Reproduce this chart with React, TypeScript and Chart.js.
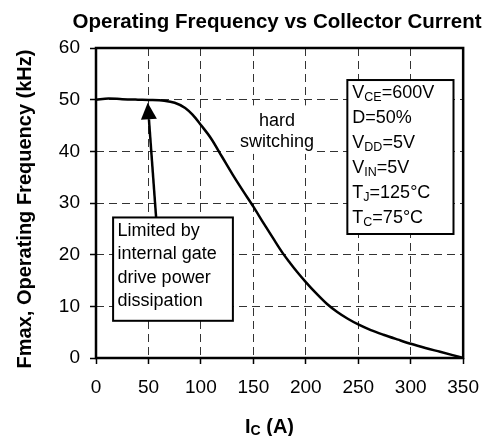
import React, { useEffect, useRef } from "react";
import { Chart, registerables } from "chart.js";

Chart.register(...registerables);

// ---- data ----
const currentA = [0, 12, 25, 40, 50, 65, 75, 85, 92, 100, 110, 120, 130, 140, 150, 160, 170, 178, 185, 192, 200, 210, 220, 230, 240, 250, 262, 274, 288, 301, 314, 328, 340, 350];
const freqKHz = [50, 50.25, 50.1, 50, 49.95, 49.8, 49.4, 48.4, 47.1, 45.1, 42.4, 39.0, 35.6, 32.4, 29.3, 26.0, 22.8, 20.3, 18.4, 16.6, 14.7, 12.5, 10.5, 8.9, 7.6, 6.5, 5.4, 4.5, 3.55, 2.7, 1.95, 1.2, 0.55, 0];

const xTicks = [0, 50, 100, 150, 200, 250, 300, 350];
const yTicks = [0, 10, 20, 30, 40, 50, 60];

const chartTitle = "Operating Frequency vs Collector Current";
const yTitle = "Fmax, Operating Frequency (kHz)";
const xTitleMain = "I";
const xTitleSub = "C";
const xTitleRest = " (A)";

const hardSwitchingLines = ["hard", "switching"];
const limitedLines = ["Limited by", "internal gate", "drive power", "dissipation"];
const conditionLines = [
  { main: "V", sub: "CE", rest: "=600V" },
  { main: "D=50%", sub: "", rest: "" },
  { main: "V", sub: "DD", rest: "=5V" },
  { main: "V", sub: "IN", rest: "=5V" },
  { main: "T", sub: "J", rest: "=125°C" },
  { main: "T", sub: "C", rest: "=75°C" },
];

const FONT = "'Liberation Sans', Arial, Helvetica, sans-serif";

const annotPlugin = {
  id: "annot",
  afterDatasetsDraw(chart: any) {
    const { ctx, chartArea: ca } = chart;
    const xs = chart.scales.x;
    const ys = chart.scales.y;
    const px = (v: number) => xs.getPixelForValue(v);
    const py = (v: number) => ys.getPixelForValue(v);
    ctx.save();

    // "hard switching" with white background
    ctx.fillStyle = "#fff";
    ctx.fillRect(px(133.4), py(48.9), px(206) - px(133.4), py(39.5) - py(48.9));
    ctx.fillStyle = "#000";
    ctx.font = `18px ${FONT}`;
    ctx.textAlign = "center";
    ctx.textBaseline = "alphabetic";
    ctx.fillText(hardSwitchingLines[0], px(172.6), py(50) + 26.5);
    ctx.fillText(hardSwitchingLines[1], px(172.6), py(50) + 47.5);

    // arrow
    const tipX = px(49.3), tipY = py(49.4);
    const tailX = px(57.3), tailY = py(27.2);
    const dx = tipX - tailX, dy = tipY - tailY;
    const len = Math.hypot(dx, dy);
    const ux = dx / len, uy = dy / len;
    const headLen = 16.5, headHalf = 8;
    const bx = tipX - ux * headLen, by = tipY - uy * headLen;
    ctx.strokeStyle = "#000";
    ctx.lineWidth = 2.5;
    ctx.beginPath();
    ctx.moveTo(tailX, tailY);
    ctx.lineTo(bx, by);
    ctx.stroke();
    ctx.beginPath();
    ctx.moveTo(tipX, tipY);
    ctx.lineTo(bx - uy * headHalf, by + ux * headHalf);
    ctx.lineTo(bx + uy * headHalf, by - ux * headHalf);
    ctx.closePath();
    ctx.fill();

    // left box
    {
      const l = px(16.3), r = px(130.5), t = py(27.2), b = py(7.2);
      ctx.fillStyle = "#fff";
      ctx.fillRect(l, t, r - l, b - t);
      ctx.lineWidth = 2;
      ctx.strokeRect(l, t, r - l, b - t);
      ctx.fillStyle = "#000";
      ctx.font = `18px ${FONT}`;
      ctx.textAlign = "left";
      limitedLines.forEach((s, i) => ctx.fillText(s, l + 4.5, t + 18.5 + i * 23.3));
    }

    // right box
    {
      const l = px(239.6), r = px(340.8), t = py(53.8), b = py(24.0);
      ctx.fillStyle = "#fff";
      ctx.fillRect(l, t, r - l, b - t);
      ctx.lineWidth = 2;
      ctx.strokeRect(l, t, r - l, b - t);
      ctx.fillStyle = "#000";
      ctx.textAlign = "left";
      conditionLines.forEach((ln, i) => {
        let x = l + 5;
        const y = t + 18.3 + i * 25;
        ctx.font = `18px ${FONT}`;
        ctx.fillText(ln.main, x, y);
        x += ctx.measureText(ln.main).width;
        if (ln.sub) {
          ctx.font = `12.5px ${FONT}`;
          ctx.fillText(ln.sub, x, y + 2.5);
          x += ctx.measureText(ln.sub).width;
        }
        if (ln.rest) {
          ctx.font = `18px ${FONT}`;
          ctx.fillText(ln.rest, x, y);
        }
      });
    }

    // frame
    ctx.strokeStyle = "#000";
    ctx.lineWidth = 2.5;
    ctx.strokeRect(ca.left, ca.top, ca.right - ca.left, ca.bottom - ca.top);

    ctx.restore();
  },
  afterDraw(chart: any) {
    const { ctx, chartArea: ca } = chart;
    ctx.save();
    ctx.fillStyle = "#000";
    // title
    ctx.font = `bold 20.5px ${FONT}`;
    ctx.textAlign = "center";
    ctx.textBaseline = "alphabetic";
    ctx.fillText(chartTitle, 277, 27.5);

    // y title
    ctx.save();
    ctx.translate(31, (ca.top + ca.bottom) / 2 + 6);
    ctx.rotate(-Math.PI / 2);
    ctx.font = `bold 20px ${FONT}`;
    ctx.textAlign = "center";
    ctx.fillText(yTitle, 0, 0);
    ctx.restore();

    // x title
    ctx.textAlign = "left";
    let x = 245;
    const y = 432.5;
    ctx.font = `bold 20px ${FONT}`;
    ctx.fillText(xTitleMain, x, y);
    x += ctx.measureText(xTitleMain).width;
    ctx.font = `bold 14px ${FONT}`;
    ctx.fillText(xTitleSub, x, y + 2);
    x += ctx.measureText(xTitleSub).width;
    ctx.font = `bold 20px ${FONT}`;
    ctx.fillText(xTitleRest, x, y);
    ctx.restore();
  },
};

export default function App() {
  const ref = useRef<HTMLCanvasElement | null>(null);

  useEffect(() => {
    if (!ref.current) return;
    const chart = new Chart(ref.current, {
      type: "line",
      data: {
        datasets: [
          {
            data: currentA.map((c, i) => ({ x: c, y: freqKHz[i] })),
            borderColor: "#000",
            borderWidth: 2.5,
            pointRadius: 0,
            fill: false,
            cubicInterpolationMode: "monotone",
          },
        ],
      },
      options: {
        animation: false,
        responsive: false,
        devicePixelRatio: 1,
        layout: { padding: { left: 0, right: 24, top: 48, bottom: 0 } },
        plugins: {
          legend: { display: false },
          title: { display: false },
          tooltip: { enabled: false },
        },
        scales: {
          x: {
            type: "linear",
            min: 0,
            max: 350,
            afterFit: (s: any) => {
              s.height = 78;
            },
            afterBuildTicks: (s: any) => {
              s.ticks = xTicks.map((v) => ({ value: v }));
            },
            ticks: {
              color: "#000",
              font: { family: FONT, size: 19 },
              padding: 12,
              maxRotation: 0,
              autoSkip: false,
            },
            grid: {
              color: "#333",
              lineWidth: 1,
              tickLength: 6,
              tickColor: "#000",
              tickWidth: 1.5,
            },
            border: { display: false, dash: [8, 5] },
          },
          y: {
            type: "linear",
            min: 0,
            max: 60,
            afterFit: (s: any) => {
              s.width = 96;
            },
            afterBuildTicks: (s: any) => {
              s.ticks = yTicks.map((v) => ({ value: v }));
            },
            ticks: {
              color: "#000",
              font: { family: FONT, size: 19 },
              padding: 10,
              autoSkip: false,
            },
            grid: {
              color: "#333",
              lineWidth: 1,
              tickLength: 6,
              tickColor: "#000",
              tickWidth: 1.5,
            },
            border: { display: false, dash: [8, 5] },
          },
        },
      },
      plugins: [annotPlugin],
    });
    return () => chart.destroy();
  }, []);

  return (
    <div style={{ position: "absolute", left: 0, top: 0, width: 491, height: 436, background: "#fff" }}>
      <canvas ref={ref} width={491} height={436} style={{ display: "block" }} />
    </div>
  );
}
